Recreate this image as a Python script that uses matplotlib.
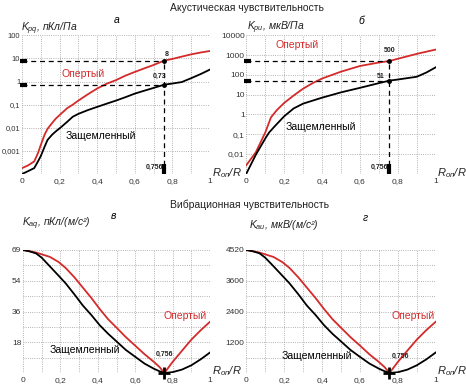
import matplotlib
matplotlib.use('Agg')
import matplotlib.pyplot as plt

plt.rcParams['font.family'] = ['Liberation Sans', 'DejaVu Sans']
plt.rcParams['mathtext.fontset'] = 'custom'
plt.rcParams['mathtext.it'] = 'Liberation Sans:italic'
plt.rcParams['mathtext.rm'] = 'Liberation Sans'

# --- data ---
# (а) acoustic, charge sensitivity, пКл/Па
x_a = [0, 0.03, 0.065, 0.085, 0.1, 0.12, 0.136, 0.16, 0.18, 0.21, 0.24, 0.27, 0.3, 0.35,
       0.4, 0.45, 0.5, 0.55, 0.6, 0.65, 0.7, 0.756, 0.8, 0.85, 0.9, 0.95, 1.0]
red_a = [1.8e-4, 2.3e-4, 3.5e-4, 8e-4, 1.8e-3, 5e-3, 9e-3, 0.016, 0.025, 0.042, 0.07, 0.1, 0.15, 0.28,
         0.5, 0.8, 1.15, 1.8, 2.6, 3.7, 5.2, 8, 9.5, 12, 15, 18, 21]
black_a = [1e-4, 1.3e-4, 1.8e-4, 3.5e-4, 6e-4, 1.5e-3, 3e-3, 5e-3, 7e-3, 0.011, 0.018, 0.03, 0.04, 0.058,
           0.08, 0.11, 0.15, 0.21, 0.3, 0.4, 0.53, 0.73, 0.82, 0.95, 1.4, 2.1, 3.3]

# (б) acoustic, voltage sensitivity, мкВ/Па
x_b = [0, 0.05, 0.1, 0.13, 0.16, 0.2, 0.25, 0.3, 0.35, 0.4, 0.5, 0.6, 0.7, 0.756, 0.8, 0.9, 1.0]
red_b = [2.7e-3, 0.012, 0.12, 0.7, 1.6, 3.8, 9, 20, 38, 65, 145, 280, 420, 500, 650, 1150, 1900]
x_b2 = [0, 0.05, 0.1, 0.12, 0.15, 0.2, 0.25, 0.3, 0.4, 0.5, 0.6, 0.7, 0.756, 0.8, 0.9, 0.95, 1.0]
black_b = [1e-3, 9e-3, 0.06, 0.12, 0.25, 0.8, 2, 3.5, 7, 13, 22, 38, 51, 58, 80, 130, 240]

# (в) vibration, charge sensitivity (axis top labelled 69)
x_c = [0, 0.035, 0.07, 0.1, 0.143, 0.19, 0.228, 0.275, 0.32, 0.365, 0.41, 0.455, 0.505, 0.55,
       0.6, 0.65, 0.7, 0.73, 0.756, 0.8, 0.85, 0.9, 0.95, 1.0]
red_c = [72, 71.3, 70.5, 69.5, 68, 65, 61.5, 56, 50, 44, 37.5, 31.5, 26, 21,
         16, 11, 6.5, 3.5, 0, 6.5, 13, 19.5, 25, 30]
black_c = [72, 71.2, 70, 67.5, 62.5, 57, 52.5, 46, 39.5, 34, 28, 23, 18, 13.5,
           9.5, 5.5, 2.5, 1, 0, 0.5, 2, 4.5, 8, 12]

# (г) vibration, voltage sensitivity (axis top labelled 4520)
red_d = [4800, 4750, 4700, 4630, 4530, 4330, 4100, 3730, 3330, 2930, 2500, 2100, 1730, 1400,
         1070, 730, 430, 230, 0, 430, 870, 1300, 1670, 2000]
black_d = [4800, 4750, 4670, 4500, 4170, 3800, 3500, 3070, 2630, 2270, 1870, 1530, 1200, 900,
           630, 370, 170, 70, 0, 30, 130, 300, 530, 800]

x_ticks = [0, 0.2, 0.4, 0.6, 0.8, 1.0]
x_labels = ['0', '0,2', '0,4', '0,6', '0,8', '1']
x_minor = [0.1, 0.3, 0.5, 0.7, 0.9]

ya_ticks = [1e-4, 1e-3, 1e-2, 1e-1, 1, 10, 100]
ya_labels = ['', '0,001', '0,01', '0,1', '1', '10', '100']
yb_ticks = [1e-3, 1e-2, 1e-1, 1, 10, 100, 1000, 10000]
yb_labels = ['', '0,01', '0,1', '1', '10', '100', '1000', '10000']
yc_ticks = [0, 18, 36, 54, 72]
yc_labels = ['', '18', '36', '54', '69']
yc_minor = [9, 27, 45, 63]
yd_ticks = [0, 1200, 2400, 3600, 4800]
yd_labels = ['', '1200', '2400', '3600', '4520']
yd_minor = [600, 1800, 3000, 4200]

x_mark = 0.756

RED = '#d42a2a'
W, H = 466, 385

fig = plt.figure(figsize=(4.66, 3.85), dpi=100)


def make_axes(l, t, r, b):
    return fig.add_axes([l / W, 1 - b / H, (r - l) / W, (b - t) / H])


def ftext(x, y, s, **kw):
    kw.setdefault('va', 'center')
    fig.text(x / W, 1 - y / H, s, **kw)


def style(ax, yticks, ylabels, yminor, log=False, ysize=6):
    if log:
        ax.set_yscale('log')
    ax.set_xlim(0, 1)
    ax.set_ylim(yticks[0], yticks[-1])
    for s in ax.spines.values():
        s.set_visible(False)
    ax.set_xticks(x_ticks)
    ax.set_xticklabels(x_labels)
    ax.set_xticks(x_minor, minor=True)
    ax.set_yticks(yticks)
    ax.set_yticklabels(ylabels)
    ax.set_yticks(yminor, minor=True)
    ax.tick_params(which='both', length=0, labelsize=6, colors='#333333')
    ax.tick_params(axis='y', pad=1.2, labelsize=ysize)
    ax.tick_params(axis='x', pad=3)
    ax.grid(True, which='both', ls=':', color='#9a9a9a', lw=0.6)
    ax.set_axisbelow(True)


def guide(ax, yvals):
    for yv in yvals:
        ax.plot([0, x_mark], [yv, yv], ls=(0, (4, 3)), color='k', lw=0.9)
        ax.plot([-0.012, 0.025], [yv, yv], color='k', lw=3, solid_capstyle='butt', clip_on=False)
        ax.plot([x_mark], [yv], 'o', color='k', ms=2.5, zorder=5)
    ax.plot([x_mark, x_mark], [ax.get_ylim()[0], max(yvals)], ls=(0, (4, 3)), color='k', lw=0.9)
    ax.plot([x_mark, x_mark], [0, 0.07], color='k', lw=3, solid_capstyle='butt',
            transform=ax.get_xaxis_transform(), clip_on=False)


# (а)
ax_a = make_axes(22, 35.3, 210, 174)
style(ax_a, ya_ticks, ya_labels, [], log=True, ysize=5.5)
ax_a.plot(x_a, red_a, color=RED, lw=1.3)
ax_a.plot(x_a, black_a, color='k', lw=1.3)
guide(ax_a, [8, 0.73])

# (б)
ax_b = make_axes(246.3, 35.3, 435.7, 173.7)
style(ax_b, yb_ticks, yb_labels, [], log=True)
ax_b.plot(x_b, red_b, color=RED, lw=1.3)
ax_b.plot(x_b2, black_b, color='k', lw=1.3)
guide(ax_b, [500, 51])

# (в)
ax_c = make_axes(23, 250, 210, 373)
style(ax_c, yc_ticks, yc_labels, yc_minor)
ax_c.plot(x_c, red_c, color=RED, lw=1.3)
ax_c.plot(x_c, black_c, color='k', lw=1.3)
ax_c.plot([x_mark], [0], '+', color='k', ms=8, mew=2, clip_on=False, zorder=5)

# (г)
ax_d = make_axes(246.3, 250, 435.7, 373)
style(ax_d, yd_ticks, yd_labels, yd_minor)
ax_d.plot(x_c, red_d, color=RED, lw=1.3)
ax_d.plot(x_c, black_d, color='k', lw=1.3)
ax_d.plot([x_mark], [0], '+', color='k', ms=8, mew=2, clip_on=False, zorder=5)

# titles
ftext(247, 8, 'Акустическая чувствительность', ha='center', fontsize=7.5, color='#222222')
ftext(250, 205, 'Вибрационная чувствительность', ha='center', fontsize=7.5, color='#222222')

# panel letters
ftext(117, 20, 'а', ha='center', fontsize=7.5, style='italic')
ftext(361, 21, 'б', ha='center', fontsize=7.5, style='italic')
ftext(113, 216, 'в', ha='center', fontsize=7.5, style='italic')
ftext(365, 218, 'г', ha='center', fontsize=7.5, style='italic')

# axis titles
ylab = dict(ha='left', fontsize=7.5, style='italic', color='#222222')
ftext(21, 29, '$K_{pq}$, пКл/Па', **ylab)
ftext(247, 28, '$K_{pu}$, мкВ/Па', **ylab)
ftext(22, 224, '$K_{aq}$, пКл/(м/с²)', **ylab)
ftext(249, 225, '$K_{au}$, мкВ/(м/с²)', **ylab)
xlab = dict(ha='left', fontsize=8, style='italic', color='#222222')
ftext(212, 173, '$R_{оп}$/R', **xlab)
ftext(437, 173, '$R_{оп}$/R', **xlab)
ftext(212, 371, '$R_{оп}$/R', **xlab)
ftext(437, 371, '$R_{оп}$/R', **xlab)

# curve names
ftext(62, 74, 'Опертый', ha='left', fontsize=7.5, color=RED)
ftext(66, 136, 'Защемленный', ha='left', fontsize=7.5)
ftext(275, 45, 'Опертый', ha='left', fontsize=7.5, color=RED)
ftext(286, 127, 'Защемленный', ha='left', fontsize=7.5)
ftext(163, 316, 'Опертый', ha='left', fontsize=7.5, color=RED)
ftext(50, 350, 'Защемленный', ha='left', fontsize=7.5)
ftext(391, 316, 'Опертый', ha='left', fontsize=7.5, color=RED)
ftext(282, 356, 'Защемленный', ha='left', fontsize=7.5)

# value annotations
num = dict(fontsize=5, fontweight='bold', color='#222222')
ftext(167, 55, '8', ha='center', **num)
ftext(160, 76, '0,73', ha='center', **num)
ftext(163, 167, '0,756', ha='right', **num)
ftext(390, 51, '500', ha='center', **num)
ftext(381, 77, '51', ha='center', **num)
ftext(388, 167, '0,756', ha='right', **num)
ftext(165, 354, '0,756', ha='center', **num)
ftext(400, 356, '0,756', ha='center', **num)

fig.savefig('out.png', dpi=100)
